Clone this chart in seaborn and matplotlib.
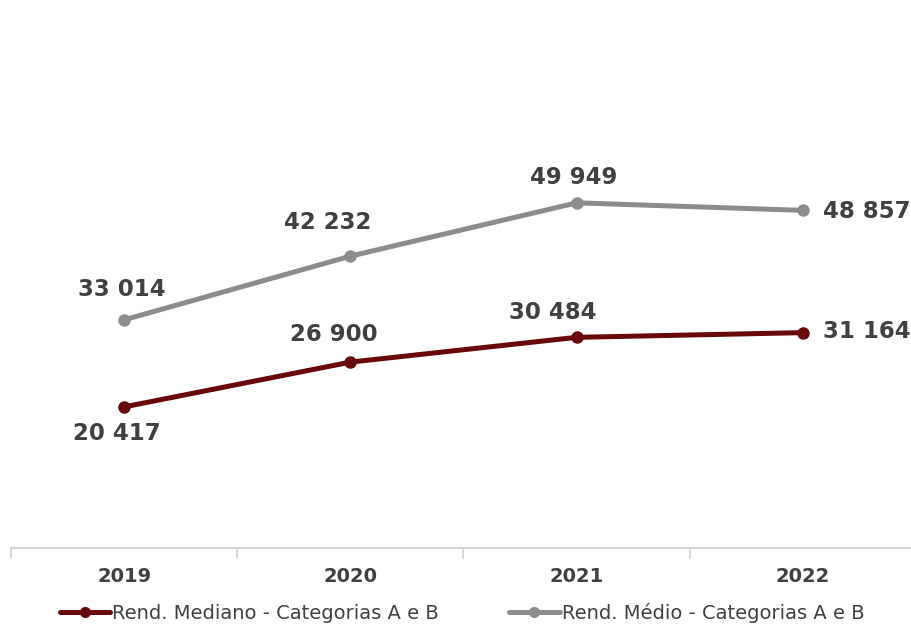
# Rendimento mediano e médio - Categorias A e B, 2019-2022
import numpy as np
import pandas as pd
import matplotlib
matplotlib.use('Agg')
import matplotlib.pyplot as plt
import seaborn as sns

anos = ['2019', '2020', '2021', '2022']
mediano = [20417, 26900, 30484, 31164]
medio = [33014, 42232, 49949, 48857]
serie_mediano = 'Rend. Mediano - Categorias A e B'
serie_medio = 'Rend. Médio - Categorias A e B'

df = pd.DataFrame({
    'pos': list(range(len(anos))) * 2,
    'valor': mediano + medio,
    'serie': [serie_mediano] * len(anos) + [serie_medio] * len(anos),
})

sns.set_style('white')
plt.rcParams['font.family'] = ['DejaVu Sans']

fig = plt.figure(figsize=(9.12, 6.28), dpi=100)
ax = fig.add_axes([11 / 912, 80 / 628, 905 / 912, 548 / 628])

cores = {serie_mediano: '#680808', serie_medio: '#8c8c8c'}
sns.lineplot(data=df, x='pos', y='valor', hue='serie', palette=cores, marker='o',
             markersize=9, markeredgewidth=0, linewidth=3.6, ax=ax, legend=True)

ax.set_xlim(-0.5, 3.5)
ax.set_ylim(0, 79300)
ax.set_xlabel('')
ax.set_ylabel('')
ax.set_yticks([])
ax.set_xticks(range(len(anos)))
ax.set_xticklabels(anos, fontsize=14, fontweight='bold', color='#404040')
ax.set_xticks(np.arange(-0.5, 3.6, 1), minor=True)
ax.tick_params(axis='x', which='major', bottom=False, length=0, pad=14)
ax.tick_params(axis='x', which='minor', bottom=True, length=8, width=1.2, color='#cfcfcf', direction='out')
for s in ['top', 'right', 'left']:
    ax.spines[s].set_visible(False)
ax.spines['bottom'].set_color('#d4d4d4')
ax.spines['bottom'].set_linewidth(1.5)


def fmt(v):
    return f'{v:,}'.replace(',', ' ')


# offsets of the data labels in points (dx, dy)
off_medio = [(-2, 22), (-16, 24), (-2, 18), (46, -1)]
off_mediano = [(-5, -19), (-12, 20), (-17, 18), (46, 1)]
for i in range(len(anos)):
    ax.annotate(fmt(medio[i]), (i, medio[i]), xytext=off_medio[i], textcoords='offset points',
                ha='center', va='center', fontsize=16.5, fontweight='bold', color='#404040')
    ax.annotate(fmt(mediano[i]), (i, mediano[i]), xytext=off_mediano[i], textcoords='offset points',
                ha='center', va='center', fontsize=16.5, fontweight='bold', color='#404040')

leg = ax.legend(loc='center', bbox_to_anchor=(462 / 912, 15 / 628), bbox_transform=fig.transFigure,
                ncol=2, frameon=False, fontsize=14, handlelength=2.6, handletextpad=0.1,
                columnspacing=3.6)
for t in leg.get_texts():
    t.set_color('#404040')
for h in leg.legend_handles:
    h.set_linewidth(3.6)
    h.set_markersize(8)

fig.savefig('out.png', dpi=100)
